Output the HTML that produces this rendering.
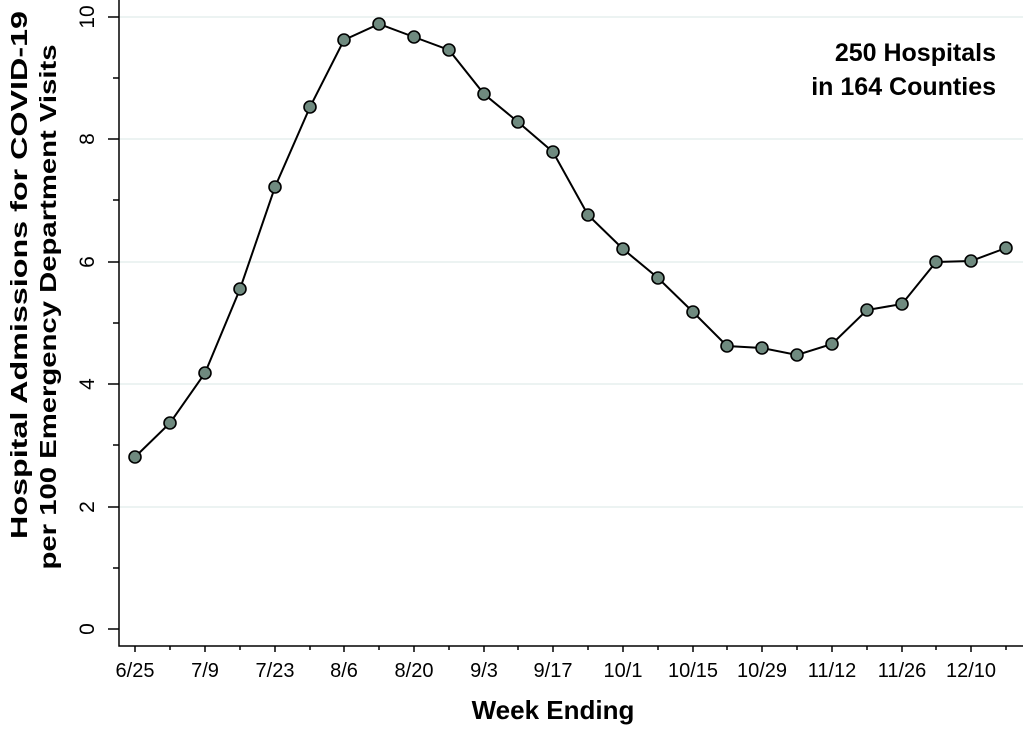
<!DOCTYPE html>
<html><head><style>body{margin:0;background:#fff}svg{display:block}</style></head><body>
<svg width="1023" height="730" xmlns="http://www.w3.org/2000/svg" font-family="Liberation Sans, Arial, sans-serif">
<g stroke="#e6efed" stroke-width="1.5">
<line x1="119" x2="1023" y1="17" y2="17"/><line x1="119" x2="1023" y1="139" y2="139"/><line x1="119" x2="1023" y1="262" y2="262"/><line x1="119" x2="1023" y1="384" y2="384"/><line x1="119" x2="1023" y1="507" y2="507"/>
</g>
<g stroke="#000" stroke-width="1.5" fill="none">
<polyline points="119,0 119,646 1023,646"/>
<path d="M108,17H119M108,139H119M108,262H119M108,384H119M108,507H119M108,629H119M113,78H119M113,200H119M113,323H119M113,445H119M113,568H119"/>
<path d="M135,646V652M205,646V652M275,646V652M344,646V652M414,646V652M484,646V652M553,646V652M623,646V652M693,646V652M762,646V652M832,646V652M902,646V652M971,646V652"/>
<path d="M170,646V650M240,646V650M310,646V650M379,646V650M449,646V650M518,646V650M588,646V650M658,646V650M727,646V650M797,646V650M867,646V650M936,646V650M1006,646V650"/>
</g>
<g font-size="21" text-anchor="middle">
<text transform="translate(94,629) rotate(-90)">0</text>
<text transform="translate(94,507) rotate(-90)">2</text>
<text transform="translate(94,384) rotate(-90)">4</text>
<text transform="translate(94,262) rotate(-90)">6</text>
<text transform="translate(94,139) rotate(-90)">8</text>
<text transform="translate(94,17) rotate(-90)">10</text>
</g>
<g font-size="20" text-anchor="middle">
<text x="135" y="677">6/25</text><text x="205" y="677">7/9</text><text x="275" y="677">7/23</text><text x="344" y="677">8/6</text><text x="414" y="677">8/20</text><text x="484" y="677">9/3</text><text x="553" y="677">9/17</text><text x="623" y="677">10/1</text><text x="693" y="677">10/15</text><text x="762" y="677">10/29</text><text x="832" y="677">11/12</text><text x="902" y="677">11/26</text><text x="971" y="677">12/10</text>
</g>
<g font-size="23" font-weight="bold" text-anchor="middle">
<text x="553" y="719" font-size="26">Week Ending</text>
<text transform="translate(27,275) rotate(-90)" textLength="528" lengthAdjust="spacingAndGlyphs">Hospital Admissions for COVID-19</text>
<text transform="translate(56,307) rotate(-90)" textLength="525" lengthAdjust="spacingAndGlyphs">per 100 Emergency Department Visits</text>
</g>
<g font-size="25" font-weight="bold" text-anchor="end">
<text x="996" y="61">250 Hospitals</text>
<text x="996" y="95">in 164 Counties</text>
</g>
<polyline fill="none" stroke="#000" stroke-width="2" points="135,457 170,423 205,373 240,289 275,187 310,107 344,40 379,24 414,37 449,50 484,94 518,122 553,152 588,215 623,249 658,278 693,312 727,346 762,348 797,355 832,344 867,310 902,304 936,262 971,261 1006,248"/>
<g fill="#6f8a7f" stroke="#000" stroke-width="1.6">
<circle cx="135" cy="457" r="6"/><circle cx="170" cy="423" r="6"/><circle cx="205" cy="373" r="6"/><circle cx="240" cy="289" r="6"/><circle cx="275" cy="187" r="6"/><circle cx="310" cy="107" r="6"/><circle cx="344" cy="40" r="6"/><circle cx="379" cy="24" r="6"/><circle cx="414" cy="37" r="6"/><circle cx="449" cy="50" r="6"/><circle cx="484" cy="94" r="6"/><circle cx="518" cy="122" r="6"/><circle cx="553" cy="152" r="6"/><circle cx="588" cy="215" r="6"/><circle cx="623" cy="249" r="6"/><circle cx="658" cy="278" r="6"/><circle cx="693" cy="312" r="6"/><circle cx="727" cy="346" r="6"/><circle cx="762" cy="348" r="6"/><circle cx="797" cy="355" r="6"/><circle cx="832" cy="344" r="6"/><circle cx="867" cy="310" r="6"/><circle cx="902" cy="304" r="6"/><circle cx="936" cy="262" r="6"/><circle cx="971" cy="261" r="6"/><circle cx="1006" cy="248" r="6"/>
</g>
</svg>
</body></html>
